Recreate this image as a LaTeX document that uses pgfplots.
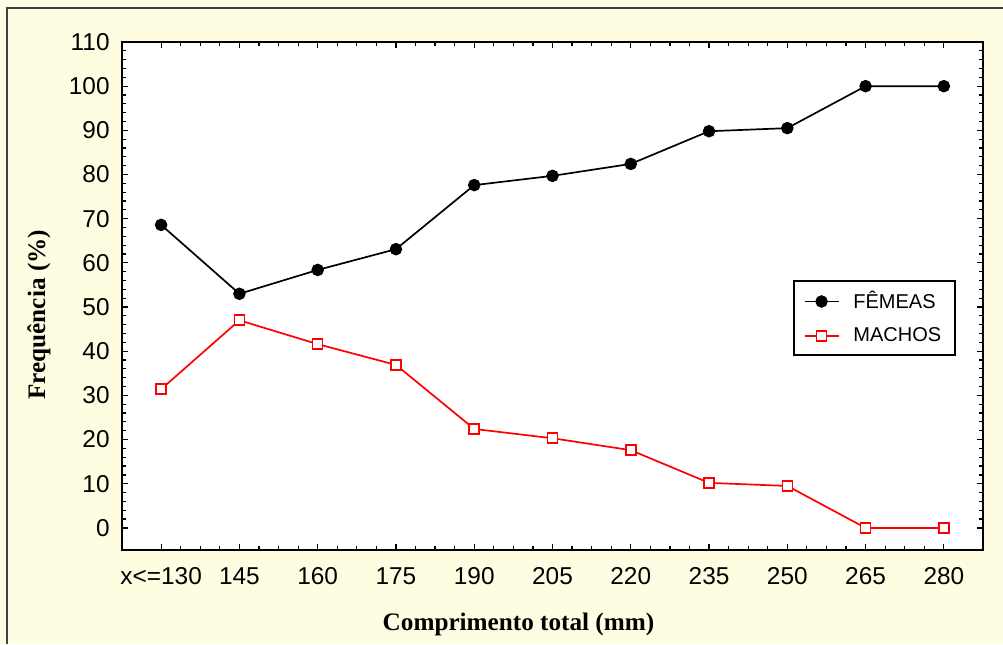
\documentclass[border=0pt]{standalone}
\usepackage{fontspec}
\setmainfont{Liberation Sans}
\newfontfamily\serif{Liberation Serif}
\usepackage{pgfplots}
\pgfplotsset{compat=1.18}
\definecolor{cream}{RGB}{255,253,225}
\definecolor{framegray}{RGB}{64,64,64}
\definecolor{machored}{RGB}{255,0,0}

\begin{document}
\begin{tikzpicture}
\useasboundingbox (0,0) rectangle (501.5pt,322pt);
\fill[cream] (0,0) rectangle (501.5pt,322pt);
\draw[framegray, line width=1pt] (3.5pt,0) -- (3.5pt,318pt) -- (501.5pt,318pt);
\begin{axis}[
  at={(61pt,47pt)}, anchor=south west,
  scale only axis, width=430.5pt, height=254pt,
  axis background/.style={fill=white},
  axis line style={line width=1.25pt},
  xmin=-0.5, xmax=10.5, ymin=-5, ymax=110,
  xtick={0,...,10},
  xticklabels={x<=130,145,160,175,190,205,220,235,250,265,280},
  ytick={0,10,...,110},
  minor x tick num=3, minor y tick num=4,
  tick align=inside, tick pos=both,
  major tick length=3pt, minor tick length=2pt,
  every tick/.style={black, line width=0.6pt},
  /pgf/number format/assume math mode=true,
  tick label style={font=\fontsize{12.2}{14}\selectfont},
  xticklabel style={inner sep=0pt, yshift=-8.5pt},
  yticklabel style={inner sep=0pt, xshift=-6pt},
  xlabel={\serif\bfseries Comprimento total (mm)},
  ylabel={\serif\bfseries Frequência (\%)},
  label style={font=\fontsize{12.6}{15}\selectfont},
  xlabel style={at={(axis description cs:0.4605,-0.1575)}, anchor=base},
  ylabel style={at={(axis description cs:-0.0894,0.463)}, anchor=base},
  legend style={at={(axis description cs:0.779,0.531)}, anchor=north west,
    draw=black, line width=1pt, font=\fontsize{10}{12}\selectfont,
    inner xsep=5pt, inner ysep=3pt, row sep=4pt, column sep=5pt},
  legend cell align=left,
  legend image code/.code={\draw[mark repeat=2,mark phase=2]
    plot coordinates {(0pt,0pt) (8.5pt,0pt) (17pt,0pt)};},
]
\addplot[black, line width=0.85pt, mark=*, mark size=2.7pt,
  mark options={fill=black}] coordinates {
  (0,68.6) (1,53.0) (2,58.4) (3,63.1) (4,77.6) (5,79.7)
  (6,82.4) (7,89.8) (8,90.5) (9,100) (10,100)
};
\addlegendentry{FÊMEAS}
\addplot[machored, line width=0.85pt, mark=square*, mark size=2.5pt,
  mark options={fill=white, line width=0.8pt}] coordinates {
  (0,31.4) (1,47.0) (2,41.6) (3,36.9) (4,22.4) (5,20.3)
  (6,17.6) (7,10.2) (8,9.5) (9,0) (10,0)
};
\addlegendentry{MACHOS}
\end{axis}
\end{tikzpicture}
\end{document}
